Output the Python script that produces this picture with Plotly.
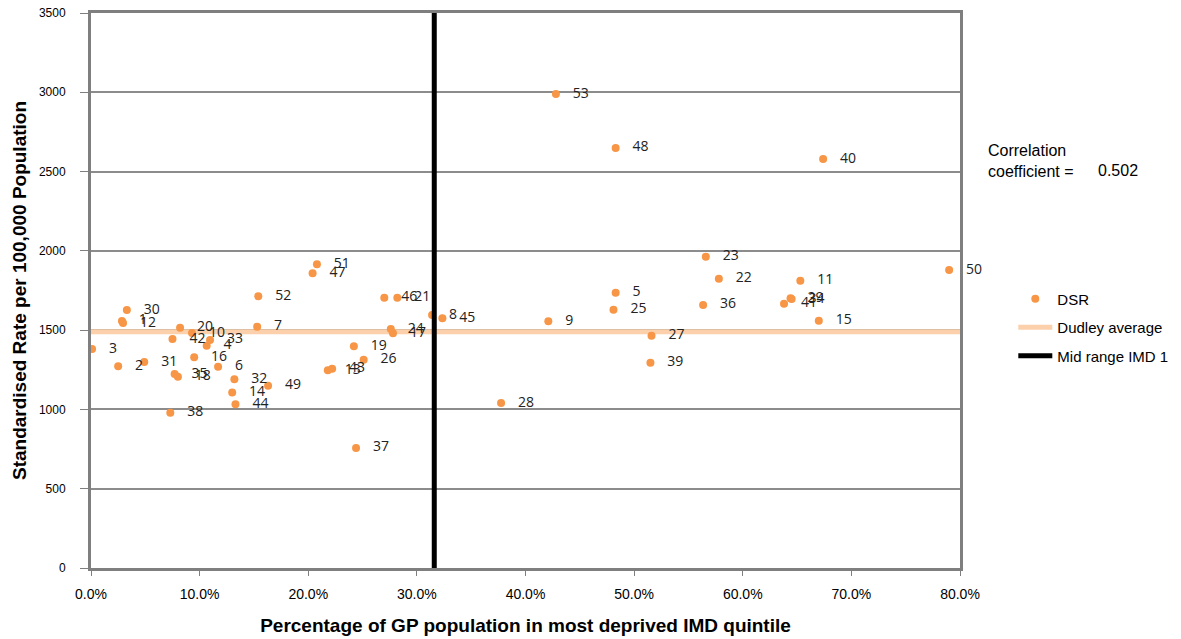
import plotly.graph_objects as go

# practice number, % of GP population in most deprived IMD quintile, DSR
practice = [1, 2, 3, 4, 5, 6, 7, 8, 9, 10,
            11, 12, 13, 14, 15, 16, 17, 18, 19, 20,
            21, 22, 23, 24, 25, 26, 27, 28, 29, 30,
            31, 32, 33, 34, 35, 36, 37, 38, 39, 40,
            41, 42, 43, 44, 45, 46, 47, 48, 49, 50,
            51, 52, 53]
pct_deprived = [2.85, 2.5, 0.1, 10.65, 48.3, 11.7, 15.3, 31.4, 42.1, 9.3,
                65.3, 2.95, 21.8, 13.0, 67.0, 9.5, 27.8, 8.0, 24.2, 8.2,
                28.2, 57.8, 56.6, 27.6, 48.1, 25.1, 51.6, 37.75, 64.4, 3.3,
                4.9, 13.2, 10.96, 64.5, 7.7, 56.35, 24.4, 7.3, 51.5, 67.4,
                63.8, 7.5, 22.2, 13.3, 32.35, 27.0, 20.4, 48.3, 16.3, 79.0,
                20.8, 15.4, 42.8]
dsr = [1558, 1272, 1381, 1402, 1736, 1269, 1522, 1595, 1556, 1482,
       1812, 1545, 1247, 1106, 1560, 1329, 1480, 1206, 1398, 1515,
       1705, 1824, 1963, 1507, 1629, 1314, 1465, 1040, 1701, 1627,
       1299, 1190, 1438, 1696, 1223, 1659, 757, 979, 1295, 2579,
       1667, 1444, 1257, 1032, 1575, 1705, 1858, 2649, 1150, 1879,
       1915, 1713, 2989]

dudley_average = 1490
mid_range_imd1 = 31.6
correlation = 0.502

x_ticks = [0, 10, 20, 30, 40, 50, 60, 70, 80]
x_ticklabels = ["0.0%", "10.0%", "20.0%", "30.0%", "40.0%", "50.0%", "60.0%", "70.0%", "80.0%"]

orange = "#F79646"
peach = "#FBD0AB"
arial = "Liberation Sans, Arial"

fig = go.Figure()

# Dudley average (under the points)
fig.add_trace(go.Scatter(
    x=[0, 80], y=[dudley_average, dudley_average],
    mode="lines", name="Dudley average", legendgroup="b",
    line=dict(color=peach, width=5),
    legendrank=2, hoverinfo="skip"))

# practices
fig.add_trace(go.Scatter(
    x=pct_deprived, y=dsr,
    mode="markers+text", name="DSR", legendgroup="a",
    text=["   " + str(p) for p in practice],
    textposition="middle right",
    textfont=dict(family="Open Sans", size=14, color="#222222"),
    marker=dict(color=orange, size=8),
    cliponaxis=False,
    legendrank=1))

# mid range IMD 1 (over the points)
fig.add_trace(go.Scatter(
    x=[mid_range_imd1, mid_range_imd1], y=[0, 3500],
    mode="lines", name="Mid range IMD 1", legendgroup="c",
    line=dict(color="black", width=5),
    legendrank=3, hoverinfo="skip"))

fig.add_annotation(
    xref="paper", yref="paper", x=1.030, y=0.771, xanchor="left", yanchor="top",
    text="Correlation<br>coefficient = ", align="left", showarrow=False,
    font=dict(family=arial, size=16, color="black"))
fig.add_annotation(
    xref="paper", yref="paper", x=1.1565, y=0.735, xanchor="left", yanchor="top",
    text="%.3f" % correlation, align="left", showarrow=False,
    font=dict(family=arial, size=16, color="black"))

fig.update_layout(
    width=1181, height=639,
    plot_bgcolor="white", paper_bgcolor="white",
    margin=dict(l=91, r=221, t=13, b=71),
    showlegend=True,
    legend=dict(xref="container", yref="container", x=0.858, y=0.558,
                xanchor="left", yanchor="top",
                font=dict(family=arial, size=15, color="black"),
                bgcolor="rgba(0,0,0,0)", tracegroupgap=6, itemwidth=34),
    xaxis=dict(
        range=[0, 80], tickvals=x_ticks, ticktext=x_ticklabels,
        showgrid=False, zeroline=False, automargin=False,
        showline=True, linewidth=3, linecolor="#7f7f7f", mirror=True,
        ticks="outside", ticklen=5, tickcolor="#7f7f7f", ticklabelstandoff=6,
        tickfont=dict(family=arial, size=14, color="black"),
        title=dict(text="<b>Percentage of GP population in most deprived IMD quintile</b>",
                   font=dict(family=arial, size=19, color="black"),
                   standoff=18)),
    yaxis=dict(
        range=[0, 3500], dtick=500,
        showgrid=True, gridcolor="#8c8c8c", gridwidth=2, zeroline=False, automargin=False,
        showline=True, linewidth=3, linecolor="#7f7f7f", mirror=True,
        ticks="outside", ticklen=8, tickcolor="#7f7f7f", ticklabelstandoff=12,
        tickfont=dict(family=arial, size=12, color="black"),
        title=dict(text="<b>Standardised Rate per 100,000 Population</b>",
                   font=dict(family=arial, size=19, color="black"),
                   standoff=8)),
)

fig.write_html("out.html", config={"displayModeBar": False},
               post_script="document.body.style.margin='0';")
